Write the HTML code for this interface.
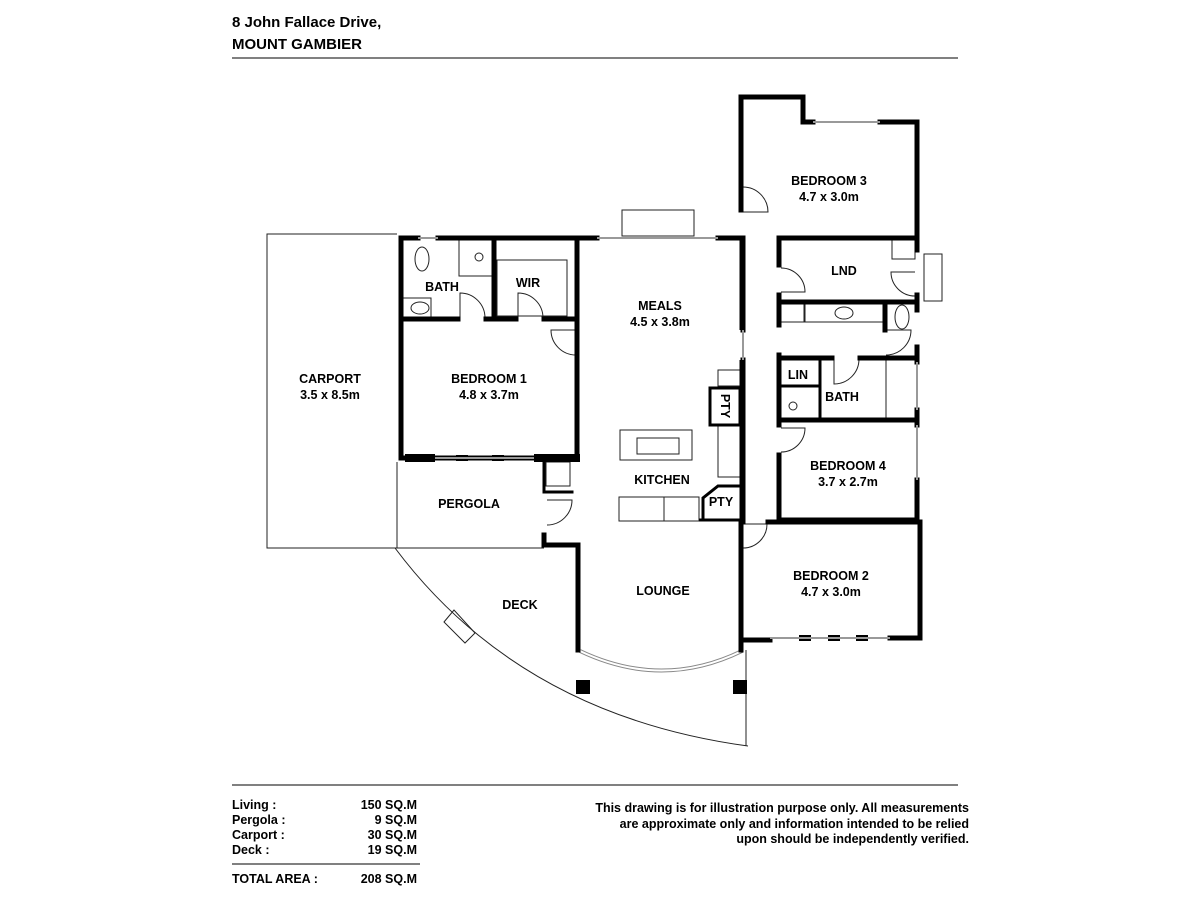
<!DOCTYPE html>
<html><head><meta charset="utf-8"><style>
body{margin:0;background:#fff;}
svg{display:block;font-family:"Liberation Sans",Arial,sans-serif;font-weight:bold;}
</style></head><body>
<svg width="1200" height="900" viewBox="0 0 1200 900" xmlns="http://www.w3.org/2000/svg">
<rect width="1200" height="900" fill="#fff"/>
<text x="232" y="27" font-size="15">8 John Fallace Drive,</text>
<text x="232" y="49" font-size="15">MOUNT GAMBIER</text>
<line x1="232" y1="58" x2="958" y2="58" stroke="#000" stroke-width="1"/>

<g fill="none" stroke="#222" stroke-width="1">
<polyline points="397,234 267,234 267,548 397,548"/>
<line x1="397" y1="462" x2="397" y2="548"/>
<line x1="397" y1="548" x2="544" y2="548"/>
<path d="M395,548 Q520,715 748,746"/>
<line x1="746" y1="650" x2="746" y2="746"/>
<polygon points="444,622 454,610 475,633 465,643"/>
<rect x="622" y="210" width="72" height="26"/>
<rect x="924" y="254" width="18" height="47"/>
<rect x="459" y="240" width="35" height="36"/>
<rect x="497" y="260" width="70" height="56"/>
<rect x="403" y="298" width="28" height="20"/>
<ellipse cx="422" cy="259" rx="7" ry="12"/>
<ellipse cx="420" cy="308" rx="9" ry="6"/>
<circle cx="479" cy="257" r="4"/>
<rect x="620" y="430" width="72" height="30"/>
<rect x="637" y="438" width="42" height="16"/>
<rect x="619" y="497" width="80" height="24"/>
<rect x="664" y="497" width="35" height="24"/>
<rect x="718" y="370" width="22" height="16"/>
<rect x="718" y="425" width="22" height="52"/>
<rect x="546" y="462" width="24" height="24"/>
<rect x="780" y="304" width="24" height="18"/>
<rect x="805" y="304" width="80" height="18"/>
<ellipse cx="844" cy="313" rx="9" ry="6"/>
<rect x="892" y="237" width="23" height="22"/>
<ellipse cx="902" cy="317" rx="7" ry="12"/>
<line x1="886" y1="360" x2="886" y2="420"/>
<circle cx="793" cy="406" r="4"/>
<path d="M460,318 v-25 a25,25 0 0 1 25,25"/>
<path d="M518,318 v-25 a25,25 0 0 1 25,25"/>
<path d="M576,330 h-25 a25,25 0 0 0 25,25"/>
<path d="M547,500 h25 a25,25 0 0 1 -25,25"/>
<path d="M743,212 h25 a25,25 0 0 0 -25,-25"/>
<path d="M781,292 h24 a24,24 0 0 0 -24,-24"/>
<path d="M915,272 h-24 a24,24 0 0 0 24,24"/>
<path d="M886,330 h25 a25,25 0 0 1 -25,25"/>
<path d="M834,359 v25 a25,25 0 0 0 25,-25"/>
<path d="M781,428 h24 a24,24 0 0 1 -24,24"/>
<path d="M743,524 h24 a24,24 0 0 1 -24,24"/>
</g>
<path d="M580,651 Q662,690 742,651" fill="none" stroke="#888" stroke-width="4"/>
<path d="M580,651 Q662,690 742,651" fill="none" stroke="#fff" stroke-width="2"/>

<g fill="none" stroke="#000" stroke-width="5" stroke-linecap="square">
<polyline points="401,238 401,458 577,458 577,238"/>
<line x1="401" y1="238" x2="418" y2="238"/>
<line x1="438" y1="238" x2="597" y2="238"/>
<line x1="401" y1="319" x2="458" y2="319"/>
<line x1="486" y1="319" x2="516" y2="319"/>
<line x1="544" y1="319" x2="577" y2="319"/>
<line x1="494" y1="238" x2="494" y2="319"/>
<line x1="577" y1="238" x2="577" y2="328"/>
<polyline points="544,458 544,492 572,492" stroke-width="3"/>
<polyline points="544,535 544,545 578,545 578,650"/>
<line x1="718" y1="238" x2="742" y2="238"/>
<polyline points="741,210 741,97 803,97 803,122 813,122"/>
<line x1="880" y1="122" x2="917" y2="122"/>
<line x1="917" y1="122" x2="917" y2="238"/>
<line x1="743" y1="238" x2="743" y2="330"/>
<line x1="743" y1="360" x2="743" y2="522"/>
<line x1="779" y1="238" x2="917" y2="238"/>
<line x1="779" y1="238" x2="779" y2="265"/>
<line x1="779" y1="295" x2="779" y2="325"/>
<line x1="779" y1="355" x2="779" y2="425"/>
<line x1="779" y1="455" x2="779" y2="520"/>
<line x1="779" y1="302" x2="917" y2="302"/>
<line x1="885" y1="302" x2="885" y2="330"/>
<line x1="779" y1="358" x2="832" y2="358"/>
<line x1="860" y1="358" x2="917" y2="358"/>
<line x1="917" y1="238" x2="917" y2="250"/>
<line x1="917" y1="295" x2="917" y2="310"/>
<line x1="917" y1="347" x2="917" y2="362"/>
<line x1="917" y1="410" x2="917" y2="425"/>
<line x1="917" y1="480" x2="917" y2="520"/>
<line x1="779" y1="420" x2="917" y2="420"/>
<line x1="779" y1="520" x2="917" y2="520"/>
<line x1="779" y1="386" x2="820" y2="386" stroke-width="3"/>
<line x1="820" y1="358" x2="820" y2="420" stroke-width="3"/>
<polyline points="741,522 741,640 770,640"/>
<line x1="768" y1="522" x2="920" y2="522"/>
<polyline points="920,522 920,638 890,638"/>
<line x1="741" y1="640" x2="741" y2="650"/>
</g>
<g stroke="#000" stroke-width="3" fill="none">
<line x1="741" y1="238" x2="741" y2="330"/>
<line x1="741" y1="360" x2="741" y2="522"/>
<rect x="710" y="388" width="30" height="37"/>
<polyline points="699,520 741,520"/>
<polyline points="703,520 703,498 718,486 741,486"/>
</g>
<g fill="#000">
<rect x="456" y="455" width="12" height="6"/><rect x="492" y="455" width="12" height="6"/>
<rect x="405" y="454" width="30" height="8"/><rect x="534" y="454" width="46" height="8"/>
<rect x="799" y="635" width="12" height="6"/><rect x="828" y="635" width="12" height="6"/>
<rect x="856" y="635" width="12" height="6"/>
<rect x="576" y="680" width="14" height="14"/><rect x="733" y="680" width="14" height="14"/>
</g>
<g stroke="#999" stroke-width="2">
<line x1="597" y1="238" x2="718" y2="238"/><line x1="813" y1="122" x2="880" y2="122"/>
<line x1="418" y1="238" x2="438" y2="238"/>
<line x1="743" y1="330" x2="743" y2="360"/>
<line x1="917" y1="362" x2="917" y2="410"/><line x1="917" y1="425" x2="917" y2="480"/>
<line x1="770" y1="638" x2="890" y2="638"/><line x1="435" y1="458" x2="534" y2="458"/>
</g>

<g font-size="12.5" text-anchor="middle">
<text x="330" y="383">CARPORT</text>
<text x="330" y="399">3.5 x 8.5m</text>
<text x="489" y="383">BEDROOM 1</text><text x="489" y="399">4.8 x 3.7m</text>
<text x="442" y="291">BATH</text><text x="528" y="287">WIR</text>
<text x="660" y="310">MEALS</text><text x="660" y="326">4.5 x 3.8m</text>
<text x="469" y="508">PERGOLA</text>
<text x="662" y="484">KITCHEN</text>
<text x="721" y="506">PTY</text>
<text x="663" y="595">LOUNGE</text>
<text x="520" y="609">DECK</text>
<text x="829" y="185">BEDROOM 3</text><text x="829" y="201">4.7 x 3.0m</text>
<text x="844" y="275">LND</text>
<text x="798" y="379">LIN</text>
<text x="842" y="401">BATH</text>
<text x="848" y="470">BEDROOM 4</text><text x="848" y="486">3.7 x 2.7m</text>
<text x="831" y="580">BEDROOM 2</text><text x="831" y="596">4.7 x 3.0m</text>
</g>
<text x="0" y="0" font-size="12.5" transform="translate(721,406) rotate(90)" text-anchor="middle">PTY</text>

<line x1="232" y1="785" x2="958" y2="785" stroke="#000" stroke-width="1"/>
<g font-size="12.5">
<text x="232" y="809">Living :</text><text x="417" y="809" text-anchor="end">150 SQ.M</text>
<text x="232" y="824">Pergola :</text><text x="417" y="824" text-anchor="end">9 SQ.M</text>
<text x="232" y="839">Carport :</text><text x="417" y="839" text-anchor="end">30 SQ.M</text>
<text x="232" y="854">Deck :</text><text x="417" y="854" text-anchor="end">19 SQ.M</text>
<text x="232" y="883">TOTAL AREA :</text><text x="417" y="883" text-anchor="end">208 SQ.M</text>
<text x="969" y="812" text-anchor="end">This drawing is for illustration purpose only. All measurements</text>
<text x="969" y="828" text-anchor="end">are approximate only and information intended to be relied</text>
<text x="969" y="843" text-anchor="end">upon should be independently verified.</text>
</g>
<line x1="232" y1="864" x2="420" y2="864" stroke="#000" stroke-width="1"/>
</svg>
</body></html>
